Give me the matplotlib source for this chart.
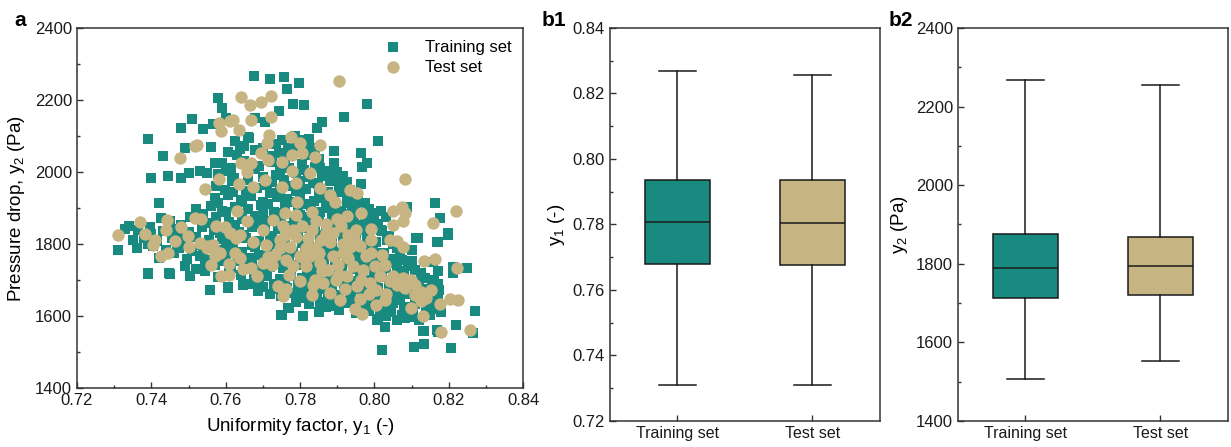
import numpy as np
import matplotlib
matplotlib.use('Agg')
import matplotlib.pyplot as plt
from matplotlib.ticker import MultipleLocator

plt.rcParams['font.family'] = ['Liberation Sans', 'DejaVu Sans']
plt.rcParams['mathtext.fontset'] = 'custom'
plt.rcParams['mathtext.rm'] = 'Liberation Sans'

TEAL = '#188a80'
TAN = '#c6b582'
EDGE = '#333333'

# Training samples (y1, y2): scattered points at the rim of the cloud
train_sparse = [
    (0.7310, 1783), (0.7330, 1843), (0.7340, 1850), (0.7390, 2093), (0.7400, 1984),
    (0.7390, 1718), (0.7430, 2044), (0.7445, 1990), (0.7450, 1718), (0.7420, 1913),
    (0.7480, 2123), (0.7490, 2066), (0.7480, 1984), (0.7510, 2147), (0.7540, 2120),
    (0.7500, 1998), (0.7530, 2002), (0.7550, 1996), (0.7580, 2206), (0.7590, 2177),
    (0.7600, 2149), (0.7566, 2133), (0.7560, 2070), (0.7572, 2026), (0.7557, 1672),
    (0.7606, 1680), (0.7580, 1709), (0.7660, 2098), (0.7675, 2268), (0.7720, 2259),
    (0.7757, 2264), (0.7797, 2248), (0.7765, 2230), (0.7780, 2188), (0.7810, 2185),
    (0.7743, 2170), (0.7705, 2140), (0.7680, 2151), (0.7810, 2089), (0.7786, 2101),
    (0.7846, 2121), (0.7860, 2140), (0.7918, 2152), (0.7980, 2188), (0.7890, 2058),
    (0.7964, 2054), (0.7980, 2024), (0.7966, 2013), (0.8010, 2086), (0.7964, 1968),
    (0.7917, 1973), (0.7958, 1913), (0.7976, 1913), (0.7932, 1913), (0.8000, 1883),
    (0.8019, 1893), (0.8032, 1876), (0.8017, 1839), (0.8088, 1904), (0.8162, 1913),
    (0.8176, 1871), (0.8113, 1816), (0.8198, 1826), (0.8170, 1805), (0.8158, 1751),
    (0.8100, 1783), (0.8250, 1732), (0.8212, 1719), (0.8272, 1615), (0.8266, 1552),
    (0.8219, 1575), (0.8207, 1512), (0.8172, 1556), (0.8133, 1558), (0.8133, 1522),
    (0.8107, 1515), (0.8020, 1506), (0.8028, 1569), (0.8008, 1589), (0.8032, 1600),
    (0.8082, 1594), (0.7808, 1600), (0.7750, 1603), (0.7770, 1621), (0.7853, 1630),
    (0.7889, 1654), (0.7392, 1719), (0.7448, 1719), (0.7558, 1672), (0.7606, 1678),
    (0.7647, 1686), (0.7687, 1669), (0.7752, 1603), (0.7768, 1622), (0.7809, 1600),
    (0.8029, 1569), (0.8132, 1559), (0.8168, 1561), (0.8271, 1615), (0.8248, 1733),
    (0.8199, 1830), (0.8168, 1806), (0.8118, 1816), (0.8212, 1737),
]

# Training samples inside the dense band
train_dense = [
    (0.7625, 2085), (0.7648, 2072), (0.7662, 2094), (0.7735, 2078), (0.7752, 2090),
    (0.7768, 2068), (0.7790, 2082), (0.7812, 2075), (0.7825, 2093),
    (0.7605, 2055), (0.7630, 2046), (0.7680, 2060), (0.7718, 2044), (0.7742, 2052),
    (0.7760, 2038), (0.7795, 2058), (0.7830, 2047), (0.7850, 2035),
    (0.7590, 2024), (0.7615, 2012), (0.7650, 2030), (0.7690, 2016), (0.7725, 2027),
    (0.7770, 2010), (0.7805, 2022), (0.7840, 2015), (0.7872, 2004), (0.7890, 2026),
    (0.7580, 1994), (0.7622, 1983), (0.7660, 1998), (0.7700, 1986), (0.7735, 1992),
    (0.7758, 1978), (0.7788, 1996), (0.7822, 1985), (0.7860, 1990), (0.7880, 1975),
    (0.7915, 1988),
    (0.7575, 1962), (0.7598, 1950), (0.7635, 1966), (0.7685, 1955), (0.7712, 1964),
    (0.7745, 1948), (0.7782, 1960), (0.7815, 1952), (0.7848, 1967), (0.7875, 1945),
    (0.7905, 1958), (0.7935, 1950),
    (0.7572, 1928), (0.7605, 1936), (0.7640, 1922), (0.7668, 1932), (0.7700, 1918),
    (0.7738, 1930), (0.7765, 1925), (0.7800, 1934), (0.7838, 1920), (0.7862, 1929),
    (0.7890, 1916), (0.7925, 1933), (0.7955, 1922),
    (0.7520, 1898), (0.7560, 1905), (0.7590, 1892), (0.7625, 1903), (0.7660, 1896),
    (0.7695, 1908), (0.7730, 1890), (0.7760, 1902), (0.7795, 1895), (0.7830, 1906),
    (0.7855, 1888), (0.7880, 1900), (0.7910, 1893), (0.7940, 1904), (0.7968, 1886),
    (0.7985, 1898),
    (0.7425, 1872), (0.7450, 1864), (0.7505, 1876), (0.7540, 1866), (0.7575, 1874),
    (0.7610, 1862), (0.7645, 1870), (0.7680, 1878), (0.7715, 1865), (0.7750, 1872),
    (0.7785, 1860), (0.7815, 1875), (0.7850, 1866), (0.7885, 1871), (0.7915, 1859),
    (0.7945, 1874), (0.7975, 1864), (0.8000, 1870),
    (0.7365, 1838), (0.7395, 1846), (0.7430, 1835), (0.7465, 1843), (0.7500, 1832),
    (0.7535, 1848), (0.7568, 1838), (0.7600, 1844), (0.7635, 1834), (0.7670, 1846),
    (0.7705, 1837), (0.7740, 1842), (0.7775, 1830), (0.7810, 1845), (0.7840, 1836),
    (0.7870, 1841), (0.7900, 1832), (0.7935, 1847), (0.7965, 1838), (0.7990, 1843),
    (0.8020, 1835),
    (0.7350, 1812), (0.7380, 1818), (0.7415, 1808), (0.7455, 1816), (0.7485, 1806),
    (0.7520, 1820), (0.7555, 1810), (0.7590, 1815), (0.7620, 1805), (0.7655, 1818),
    (0.7690, 1809), (0.7725, 1814), (0.7760, 1804), (0.7795, 1817), (0.7825, 1808),
    (0.7855, 1813), (0.7885, 1803), (0.7915, 1818), (0.7950, 1810), (0.7980, 1815),
    (0.8005, 1806), (0.8035, 1812),
    (0.7360, 1788), (0.7405, 1794), (0.7440, 1782), (0.7475, 1790), (0.7510, 1780),
    (0.7545, 1792), (0.7575, 1784), (0.7610, 1789), (0.7645, 1778), (0.7680, 1791),
    (0.7715, 1783), (0.7748, 1788), (0.7780, 1779), (0.7812, 1792), (0.7845, 1782),
    (0.7875, 1787), (0.7905, 1777), (0.7935, 1790), (0.7962, 1781), (0.7995, 1786),
    (0.8025, 1776), (0.8060, 1789),
    (0.7420, 1762), (0.7495, 1758), (0.7530, 1766), (0.7560, 1755), (0.7600, 1764),
    (0.7632, 1752), (0.7665, 1761), (0.7700, 1757), (0.7735, 1766), (0.7770, 1754),
    (0.7800, 1762), (0.7830, 1750), (0.7862, 1760), (0.7895, 1756), (0.7925, 1765),
    (0.7955, 1753), (0.7985, 1761), (0.8012, 1750), (0.8045, 1759), (0.8075, 1755),
    (0.7490, 1738), (0.7520, 1730), (0.7570, 1742), (0.7615, 1732), (0.7650, 1740),
    (0.7685, 1728), (0.7720, 1737), (0.7755, 1733), (0.7790, 1741), (0.7820, 1729),
    (0.7850, 1736), (0.7880, 1726), (0.7912, 1739), (0.7945, 1731), (0.7975, 1737),
    (0.8000, 1725), (0.8030, 1734), (0.8060, 1729), (0.8090, 1738), (0.8110, 1727),
    (0.7505, 1712), (0.7580, 1708), (0.7640, 1715), (0.7675, 1704), (0.7710, 1712),
    (0.7745, 1702), (0.7775, 1710), (0.7805, 1706), (0.7838, 1714), (0.7868, 1700),
    (0.7900, 1709), (0.7930, 1703), (0.7960, 1712), (0.7990, 1699), (0.8020, 1708),
    (0.8050, 1702), (0.8080, 1711), (0.8105, 1698), (0.8135, 1706), (0.8160, 1700),
    (0.7665, 1688), (0.7700, 1680), (0.7730, 1690), (0.7765, 1678), (0.7795, 1686),
    (0.7825, 1676), (0.7855, 1684), (0.7885, 1680), (0.7918, 1688), (0.7950, 1675),
    (0.7980, 1683), (0.8010, 1677), (0.8040, 1686), (0.8070, 1673), (0.8100, 1682),
    (0.8130, 1676), (0.8155, 1684), (0.8175, 1672),
    (0.7720, 1662), (0.7750, 1655), (0.7785, 1664), (0.7815, 1652), (0.7845, 1660),
    (0.7875, 1650), (0.7905, 1658), (0.7938, 1654), (0.7968, 1662), (0.7998, 1649),
    (0.8028, 1657), (0.8058, 1651), (0.8088, 1660), (0.8118, 1648), (0.8145, 1656),
    (0.8170, 1650),
    (0.7790, 1638), (0.7825, 1632), (0.7860, 1640), (0.7895, 1628), (0.7930, 1636),
    (0.7960, 1626), (0.7990, 1634), (0.8020, 1629), (0.8050, 1637), (0.8080, 1624),
    (0.8110, 1632), (0.8140, 1627), (0.8165, 1635),
    (0.7850, 1612), (0.7905, 1618), (0.7950, 1608), (0.7985, 1614), (0.8015, 1605),
    (0.8045, 1611), (0.8075, 1602), (0.8105, 1609), (0.8150, 1604), (0.8180, 1612),
    (0.8010, 1592), (0.8060, 1588), (0.8095, 1596), (0.8120, 1590),
]

# More training samples packed into the core of the cloud
train_core = [
    (0.7638, 2064), (0.7700, 2068), (0.7780, 2062), (0.7840, 2066),
    (0.7600, 2004), (0.7680, 2008), (0.7745, 2002), (0.7810, 2006), (0.7855, 2010),
    (0.7900, 2000),
    (0.7618, 1974), (0.7660, 1978), (0.7725, 1972), (0.7800, 1976), (0.7835, 1970),
    (0.7895, 1979), (0.7925, 1972),
    (0.7620, 1944), (0.7655, 1948), (0.7720, 1942), (0.7790, 1946), (0.7850, 1940),
    (0.7910, 1944), (0.7945, 1938),
    (0.7580, 1914), (0.7645, 1918), (0.7715, 1912), (0.7780, 1916), (0.7815, 1910),
    (0.7870, 1914), (0.7925, 1918), (0.7960, 1908),
    (0.7540, 1884), (0.7600, 1888), (0.7700, 1882), (0.7745, 1886), (0.7800, 1880),
    (0.7840, 1884), (0.7900, 1888), (0.7930, 1882), (0.7990, 1886),
    (0.7480, 1854), (0.7560, 1858), (0.7625, 1852), (0.7690, 1856), (0.7765, 1850),
    (0.7830, 1854), (0.7895, 1858), (0.7960, 1852), (0.8010, 1856),
    (0.7400, 1828), (0.7480, 1824), (0.7585, 1830), (0.7650, 1826), (0.7720, 1822),
    (0.7790, 1828), (0.7855, 1824), (0.7920, 1830), (0.7980, 1826), (0.8040, 1822),
    (0.7390, 1800), (0.7470, 1804), (0.7535, 1798), (0.7600, 1802), (0.7670, 1796),
    (0.7740, 1800), (0.7805, 1804), (0.7870, 1798), (0.7925, 1802), (0.7985, 1796),
    (0.8050, 1800),
    (0.7460, 1776), (0.7540, 1772), (0.7625, 1778), (0.7690, 1770), (0.7760, 1776),
    (0.7825, 1772), (0.7890, 1778), (0.7950, 1770), (0.8010, 1774), (0.8070, 1768),
    (0.7545, 1748), (0.7595, 1752), (0.7670, 1746), (0.7740, 1750), (0.7805, 1744),
    (0.7865, 1748), (0.7930, 1752), (0.7990, 1744), (0.8050, 1748), (0.8100, 1752),
    (0.7545, 1724), (0.7610, 1720), (0.7700, 1726), (0.7770, 1722), (0.7835, 1726),
    (0.7895, 1720), (0.7960, 1724), (0.8015, 1718), (0.8075, 1724), (0.8125, 1720),
    (0.8170, 1726),
    (0.7690, 1698), (0.7760, 1694), (0.7820, 1700), (0.7885, 1694), (0.7945, 1698),
    (0.8005, 1692), (0.8065, 1698), (0.8120, 1694), (0.8170, 1690),
    (0.7745, 1674), (0.7810, 1670), (0.7870, 1676), (0.7935, 1668), (0.7995, 1672),
    (0.8055, 1666), (0.8115, 1672), (0.8160, 1668),
    (0.7800, 1650), (0.7875, 1646), (0.7945, 1642), (0.8005, 1648), (0.8070, 1644),
    (0.8130, 1650),
    (0.7870, 1624), (0.7970, 1622), (0.8035, 1620), (0.8095, 1624), (0.8160, 1620),
]

# Test samples (y1, y2)
test_pts = [
    (0.7310, 1826), (0.7369, 1860), (0.7384, 1828), (0.7404, 1798), (0.7410, 1812),
    (0.7427, 1766), (0.7445, 1775), (0.7439, 1840), (0.7443, 1866), (0.7463, 1807),
    (0.7476, 2039), (0.7480, 1846), (0.7499, 1821), (0.7500, 1792), (0.7517, 2071),
    (0.7524, 2076), (0.7517, 1872), (0.7533, 1870), (0.7543, 1953), (0.7530, 1803),
    (0.7550, 1789), (0.7560, 1741), (0.7575, 1849), (0.7581, 1981), (0.7582, 2136),
    (0.7588, 2115), (0.7611, 2143), (0.7620, 2145), (0.7584, 1775), (0.7588, 1712),
    (0.7609, 1715), (0.7610, 1744), (0.7597, 1846), (0.7630, 1891), (0.7638, 1826),
    (0.7636, 2118), (0.7640, 2208), (0.7666, 2187), (0.7669, 2145), (0.7696, 2194),
    (0.7723, 2210), (0.7723, 2153), (0.7642, 2025), (0.7669, 2025), (0.7656, 1999),
    (0.7635, 1968), (0.7674, 1957), (0.7705, 1979), (0.7696, 2053), (0.7714, 2034),
    (0.7717, 2104), (0.7710, 2081), (0.7752, 1957), (0.7752, 2028), (0.7777, 2048),
    (0.7778, 2002), (0.7775, 2097), (0.7790, 1969), (0.7793, 1918), (0.7799, 2081),
    (0.7804, 2053), (0.7828, 1997), (0.7841, 2043), (0.7853, 2076), (0.7853, 1956),
    (0.7832, 1890), (0.7880, 1937), (0.7893, 1918), (0.7904, 2254), (0.7934, 1951),
    (0.7954, 1943), (0.7925, 1879), (0.7965, 1886), (0.8082, 1981), (0.8050, 1891),
    (0.8073, 1904), (0.8082, 1886), (0.8077, 1863), (0.8049, 1854), (0.7992, 1842),
    (0.7950, 1840), (0.8219, 1891), (0.8158, 1857), (0.8041, 1812), (0.8060, 1807),
    (0.8077, 1792), (0.8133, 1754), (0.8163, 1757), (0.8221, 1732), (0.8028, 1741),
    (0.8001, 1738), (0.8014, 1710), (0.7987, 1692), (0.8005, 1673), (0.8028, 1645),
    (0.8005, 1631), (0.8041, 1696), (0.8060, 1687), (0.8082, 1678), (0.8108, 1659),
    (0.8099, 1622), (0.8077, 1706), (0.8099, 1701), (0.8126, 1668), (0.8126, 1641),
    (0.8151, 1673), (0.8131, 1599), (0.8176, 1634), (0.8203, 1647), (0.8225, 1645),
    (0.8258, 1562), (0.8180, 1555), (0.7947, 1619), (0.7968, 1605), (0.7960, 1647),
    (0.7907, 1645), (0.7831, 1659), (0.7755, 1655), (0.7763, 1675), (0.7741, 1682),
    (0.7683, 1710), (0.7669, 1733), (0.7673, 1805), (0.7701, 1747), (0.7724, 1742),
    (0.7708, 1798), (0.7732, 1770), (0.7745, 1789), (0.7759, 1826), (0.7763, 1756),
    (0.7781, 1738), (0.7799, 1766), (0.7781, 1840), (0.7804, 1849), (0.7822, 1817),
    (0.7831, 1840), (0.7844, 1863), (0.7840, 1789), (0.7857, 1812), (0.7871, 1831),
    (0.7817, 1738), (0.7853, 1747), (0.7875, 1729), (0.7889, 1766), (0.7902, 1742),
    (0.7916, 1775), (0.7934, 1793), (0.7898, 1701), (0.7925, 1710), (0.7943, 1738),
    (0.7952, 1682), (0.7862, 1692), (0.7840, 1701), (0.7799, 1696), (0.7826, 1766),
    (0.7889, 1831), (0.7911, 1849), (0.7929, 1826), (0.7772, 1793), (0.7790, 1881),
    (0.7759, 1886), (0.7727, 1868), (0.7701, 1840), (0.7656, 1863), (0.7627, 1817),
    (0.7611, 1831), (0.7624, 1775), (0.7570, 1766), (0.7552, 1794), (0.7566, 1798),
    (0.7638, 1761), (0.7647, 1731), (0.7978, 1766), (0.7970, 1729), (0.7992, 1775),
    (0.7790, 1820), (0.7815, 1790), (0.7850, 1775), (0.7880, 1805), (0.7915, 1800),
    (0.7860, 1725), (0.7905, 1715), (0.7930, 1760), (0.7960, 1795), (0.7810, 1760),
    (0.7770, 1715), (0.7835, 1685), (0.7880, 1665), (0.7920, 1675), (0.7965, 1700),
    (0.7985, 1660), (0.7990, 1810), (0.8020, 1770), (0.7745, 1810), (0.7715, 1765),
    (0.7755, 1850), (0.7870, 1855), (0.7900, 1870), (0.7945, 1815), (0.8030, 1660),
    (0.8050, 1710), (0.8110, 1685), (0.8140, 1650),
]

train = np.array(train_sparse + train_dense + train_core)
test = np.array(test_pts)

# Box statistics (min, Q1, median, Q3, max) for each set
box_labels = ['Training set', 'Test set']
y1_stats = [(0.7310, 0.7680, 0.7807, 0.7935, 0.8270),
            (0.7310, 0.7677, 0.7805, 0.7937, 0.8257)]
y2_stats = [(1507, 1713, 1790, 1875, 2267),
            (1553, 1720, 1794, 1867, 2255)]
box_colors = [TEAL, TAN]

fig = plt.figure(figsize=(12.31, 4.47), dpi=100)
ax_a = fig.add_axes([0.0626, 0.132, 0.3623, 0.8054])
ax_b1 = fig.add_axes([0.4955, 0.0582, 0.2193, 0.8792])
ax_b2 = fig.add_axes([0.7782, 0.0582, 0.2193, 0.8792])


def style_axes(ax):
    for s in ax.spines.values():
        s.set_color(EDGE)
        s.set_linewidth(1.1)
    ax.tick_params(which='both', direction='in', colors=EDGE, labelcolor='#1a1a1a',
                   labelsize=12, top=False, right=False)
    ax.tick_params(which='major', length=4.5, width=1.0)
    ax.tick_params(which='minor', length=2.5, width=1.0)


# a: scatter of the two sets
ax_a.scatter(train[:, 0], train[:, 1], marker='s', s=62, color=TEAL, linewidths=0,
             label='Training set', zorder=2)
ax_a.scatter(test[:, 0], test[:, 1], marker='o', s=80, color=TAN, linewidths=0,
             label='Test set', zorder=3)
ax_a.set_xlim(0.72, 0.84)
ax_a.set_ylim(1400, 2400)
ax_a.xaxis.set_major_locator(MultipleLocator(0.02))
ax_a.xaxis.set_minor_locator(MultipleLocator(0.01))
ax_a.yaxis.set_major_locator(MultipleLocator(200))
ax_a.yaxis.set_minor_locator(MultipleLocator(100))
ax_a.xaxis.set_major_formatter(plt.FormatStrFormatter('%.2f'))
style_axes(ax_a)
ax_a.set_xlabel(r'Uniformity factor, $\mathregular{y_1}$ (-)', fontsize=13.5, labelpad=6)
ax_a.set_ylabel(r'Pressure drop, $\mathregular{y_2}$ (Pa)', fontsize=13.5, labelpad=6)
ax_a.legend(loc='upper right', frameon=False, fontsize=12, handletextpad=0.9,
            borderaxespad=0.3, labelspacing=0.3, bbox_to_anchor=(1.0, 1.0))


def draw_boxes(ax, stats):
    bstats = []
    for lab, (lo, q1, med, q3, hi) in zip(box_labels, stats):
        bstats.append(dict(label=lab, whislo=lo, q1=q1, med=med, q3=q3, whishi=hi,
                           fliers=[]))
    parts = ax.bxp(bstats, positions=[1, 2], widths=0.48, patch_artist=True,
                   showfliers=False, capwidths=0.27,
                   boxprops=dict(linewidth=1.1, edgecolor='#1a1a1a'),
                   medianprops=dict(color='#1a1a1a', linewidth=1.1),
                   whiskerprops=dict(color='#1a1a1a', linewidth=1.1),
                   capprops=dict(color='#1a1a1a', linewidth=1.1))
    for patch, c in zip(parts['boxes'], box_colors):
        patch.set_facecolor(c)
    ax.set_xlim(0.5, 2.5)
    ax.set_xticks([1, 2])
    ax.set_xticklabels(box_labels)
    style_axes(ax)
    ax.tick_params(axis='x', labelsize=11.5)


draw_boxes(ax_b1, y1_stats)
ax_b1.set_ylim(0.72, 0.84)
ax_b1.yaxis.set_major_locator(MultipleLocator(0.02))
ax_b1.yaxis.set_minor_locator(MultipleLocator(0.01))
ax_b1.yaxis.set_major_formatter(plt.FormatStrFormatter('%.2f'))
ax_b1.set_ylabel(r'$\mathregular{y_1}$ (-)', fontsize=13.5, labelpad=4)

draw_boxes(ax_b2, y2_stats)
ax_b2.set_ylim(1400, 2400)
ax_b2.yaxis.set_major_locator(MultipleLocator(200))
ax_b2.yaxis.set_minor_locator(MultipleLocator(100))
ax_b2.set_ylabel(r'$\mathregular{y_2}$ (Pa)', fontsize=13.5, labelpad=4)

# panel letters
fig.text(0.012, 0.955, 'a', fontsize=15, fontweight='bold', va='center')
fig.text(0.440, 0.955, 'b1', fontsize=15, fontweight='bold', va='center')
fig.text(0.722, 0.955, 'b2', fontsize=15, fontweight='bold', va='center')

fig.savefig('out.png', dpi=100)
